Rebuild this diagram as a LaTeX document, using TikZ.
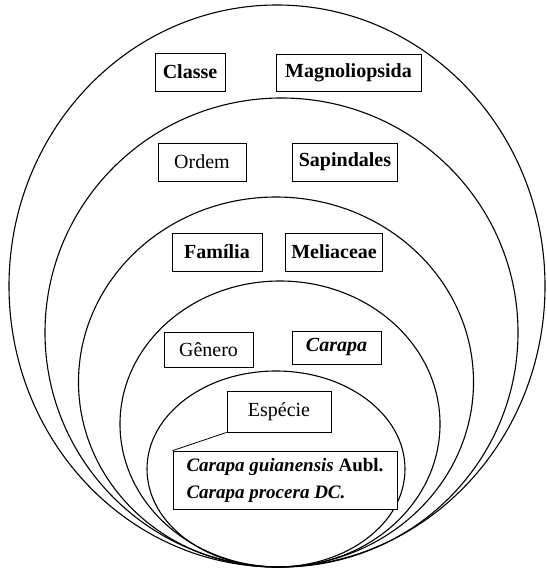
\documentclass[tikz,border=0pt]{standalone}
\usepackage{fontspec}
\setmainfont{Liberation Serif}
\begin{document}
\begin{tikzpicture}[x=1pt,y=-1pt,
  oval/.style={line width=1.1pt},
  lbl/.style={draw, line width=0.8pt, fill=white, inner sep=0pt,
    font=\fontsize{20}{24}\selectfont},
  lblb/.style={lbl, font=\fontsize{20}{24}\selectfont\bfseries},
  callout/.style={line width=0.8pt}]
\useasboundingbox (0,0) rectangle (546,572);
% nested ellipses, all tangent at the bottom
\draw[oval] (277,286)   ellipse [x radius=268pt, y radius=281pt];
\draw[oval] (281.5,332.5) ellipse [x radius=236.5pt, y radius=234.5pt];
\draw[oval] (276,382)   ellipse [x radius=197.5pt, y radius=185pt];
\draw[oval] (280,424)   ellipse [x radius=160pt, y radius=143pt];
\draw[oval] (276,469)   ellipse [x radius=129pt, y radius=98pt];
% labels
\node[lblb, minimum width=70pt, minimum height=38pt] (classe) at (190,72) {Classe};
\node[lblb, minimum width=145pt, minimum height=37pt] (magno) at (348.5,72.5) {Magnoliopsida};
\node[lbl, minimum width=88pt, minimum height=38pt] (ordem) at (202,162) {Ordem};
\node[lblb, minimum width=105pt, minimum height=38pt] (sapin) at (345,162) {Sapindales};
\node[lblb, minimum width=90pt, minimum height=38pt] (familia) at (217,252) {Família};
\node[lblb, minimum width=97pt, minimum height=38pt] (melia) at (334,252) {Meliaceae};
\node[lbl, minimum width=89pt, minimum height=35pt] (genero) at (208.5,349.5) {Gênero};
\node[lblb, minimum width=89pt, minimum height=33pt] (carapa) at (336.5,347.5) {\textit{Carapa}};
\node[lbl, minimum width=104pt, minimum height=41pt] (especie) at (279,411.5) {Espécie};
\node[lblb, minimum width=224pt, minimum height=58pt, align=left,
      font=\fontsize{19}{27}\selectfont\bfseries] (species) at (285,480)
  {\textit{Carapa guianensis} Aubl.\\\textit{Carapa procera DC.}};
\draw[callout] (especie.south west) -- (species.north west);
\end{tikzpicture}
\end{document}
